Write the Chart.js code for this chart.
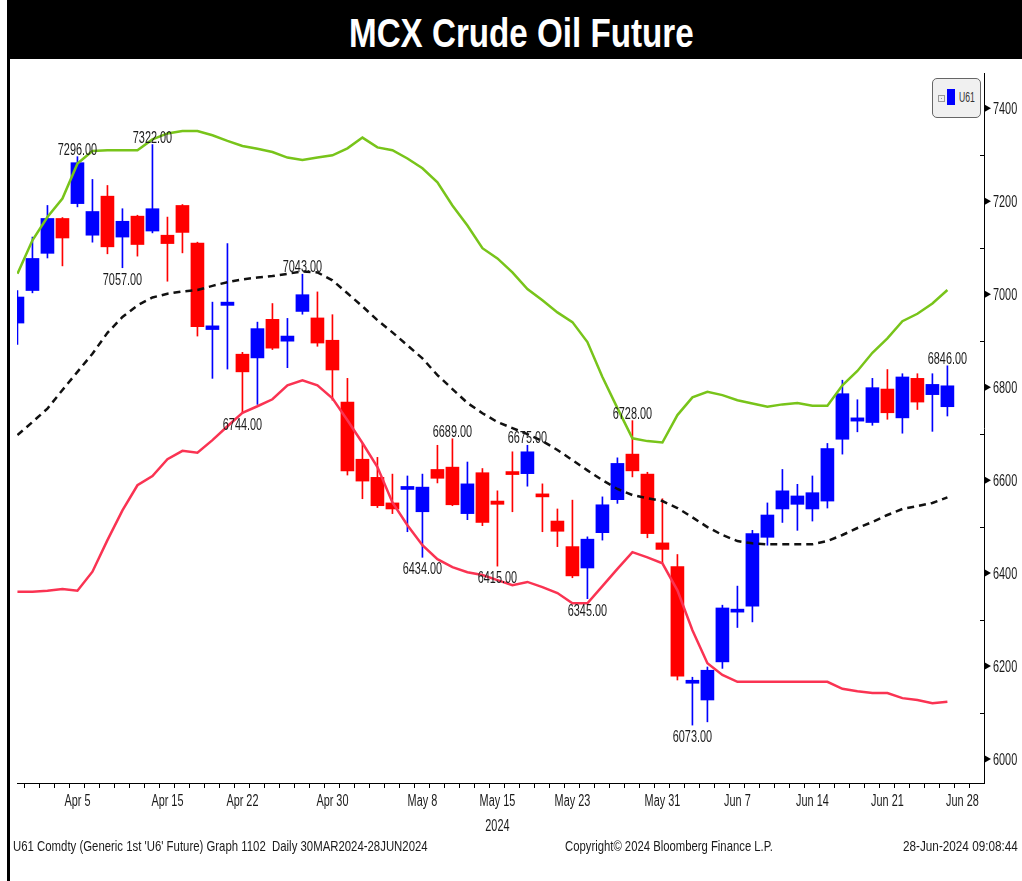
<!DOCTYPE html>
<html>
<head>
<meta charset="utf-8">
<title>MCX Crude Oil Future</title>
<script src="https://cdn.jsdelivr.net/npm/chart.js@4.4.1/dist/chart.umd.min.js"></script>
<style>
  html, body { margin: 0; padding: 0; background: #fff; }
  #page { position: relative; width: 1022px; height: 881px; overflow: hidden; background: #fff;
          font-family: 'Liberation Sans', Arial, sans-serif; color: #222; }
  #frame { position: absolute; left: 7px; top: 0; width: 3px; height: 881px; background: #000; }
  #title { position: absolute; left: 7px; top: 0; width: 1015px; height: 59px; background: #000; overflow: hidden; }
  #title span { top: 0; color: #fff; font-weight: bold; font-size: 40px; line-height: 66px; }
  #chart { position: absolute; left: 0; top: 59px; }
  #legend { position: absolute; left: 932px; top: 78px; width: 49px; height: 40px; box-sizing: border-box;
            border: 1.5px solid #666; border-radius: 5px; background: #f0f0f0; }
  #legend .ico { position: absolute; left: 5px; top: 16px; width: 5px; height: 5px; border: 1px solid #999; }
  #legend .ico:after { content: ''; position: absolute; left: 2px; top: 2px; width: 1px; height: 1px; background: #999; }
  #legend .sw { position: absolute; left: 14px; top: 10px; width: 8px; height: 16px; background: #0000ff; }
  .fit { position: absolute; white-space: nowrap; transform-origin: 0 0; }
  .note { top: 837px; font-size: 15px; line-height: 17px; color: #1a1a1a; }
</style>
</head>
<body>
<div id="page">
  <div id="title"><span class="fit" data-x="514" data-w="345" data-a="c">MCX Crude Oil Future</span></div>
  <div id="frame"></div>
  <canvas id="chart" width="1022" height="822"></canvas>
  <div id="legend"><div class="ico"></div><div class="sw"></div></div>
  <span class="fit" data-x="959" data-w="16" data-a="l" style="top:90px; font-size:14px; line-height:15px; color:#333;">U61</span>
  <span class="fit note" data-x="13" data-w="415" data-a="l">U61 Comdty (Generic 1st 'U6' Future) Graph 1102&nbsp; Daily 30MAR2024-28JUN2024</span>
  <span class="fit note" data-x="669" data-w="208" data-a="c">Copyright© 2024 Bloomberg Finance L.P.</span>
  <span class="fit note" data-x="1018" data-w="115" data-a="r">28-Jun-2024 09:08:44</span>
</div>
<script>
// daily candles, 1 Apr 2024 .. 27 Jun 2024 (trading-day index 0..62)
var opens = [6938, 7008, 7088, 7163, 7195, 7127, 7211, 7123, 7168, 7136,
             7127, 7191, 7110, 6924, 6976, 6871, 6863, 6946, 6899, 6963,
             6949, 6901, 6768, 6645, 6606, 6551, 6580, 6532, 6623, 6628,
             6528, 6616, 6555, 6617, 6614, 6570, 6512, 6457, 6411, 6487,
             6558, 6656, 6613, 6465, 6414, 6163, 6127, 6209, 6316, 6329,
             6477, 6538, 6548, 6538, 6555, 6688, 6727, 6724, 6796, 6734,
             6819, 6784, 6758];
var highs = [7008, 7123, 7191, 7165, 7296, 7247, 7234, 7184, 7170, 7322,
             7166, 7193, 7112, 6983, 7109, 6875, 6940, 6980, 6948, 7043,
             7005, 6956, 6819, 6679, 6649, 6613, 6609, 6613, 6675, 6689,
             6639, 6625, 6577, 6661, 6675, 6592, 6538, 6557, 6478, 6564,
             6648, 6728, 6617, 6560, 6440, 6176, 6198, 6331, 6372, 6492,
             6551, 6623, 6591, 6609, 6679, 6815, 6773, 6819, 6838, 6829,
             6829, 6829, 6846];
var lows = [6892, 7003, 7078, 7061, 7188, 7112, 7087, 7057, 7082, 7132,
            7028, 7089, 6910, 6819, 6839, 6744, 6763, 6881, 6842, 6957,
            6888, 6772, 6611, 6560, 6541, 6528, 6489, 6434, 6594, 6545,
            6515, 6502, 6415, 6532, 6587, 6489, 6457, 6390, 6345, 6471,
            6550, 6607, 6476, 6421, 6170, 6073, 6080, 6195, 6283, 6295,
            6460, 6509, 6492, 6512, 6540, 6656, 6704, 6718, 6731, 6701,
            6752, 6705, 6738];
var closes = [6994, 7077, 7163, 7121, 7283, 7178, 7102, 7157, 7107, 7184,
              7109, 7133, 6930, 6932, 6983, 6833, 6926, 6884, 6910, 6999,
              6895, 6837, 6620, 6598, 6545, 6538, 6585, 6585, 6604, 6547,
              6592, 6509, 6548, 6612, 6661, 6564, 6490, 6394, 6473, 6547,
              6636, 6620, 6485, 6451, 6178, 6168, 6191, 6325, 6321, 6485,
              6525, 6577, 6566, 6573, 6668, 6786, 6734, 6799, 6745, 6822,
              6768, 6806, 6803];

// bollinger bands
var upperBand = [7044, 7116, 7166, 7206, 7281, 7308, 7310, 7310, 7310, 7333,
                 7346, 7351, 7351, 7342, 7330, 7319, 7313, 7306, 7294, 7289,
                 7294, 7299, 7314, 7337, 7316, 7310, 7292, 7271, 7241, 7191,
                 7148, 7099, 7077, 7047, 7011, 6987, 6961, 6940, 6897, 6822,
                 6755, 6690, 6684, 6681, 6740, 6778, 6790, 6783, 6772, 6765,
                 6758, 6763, 6766, 6760, 6760, 6804, 6835, 6874, 6905, 6942,
                 6958, 6980, 7009];
var midBand = [6697, 6725, 6754, 6794, 6833, 6872, 6917, 6951, 6976, 6993,
               7001, 7006, 7009, 7018, 7026, 7032, 7036, 7039, 7044, 7049,
               7047, 7030, 7002, 6974, 6944, 6918, 6890, 6862, 6826, 6796,
               6766, 6744, 6725, 6712, 6699, 6684, 6665, 6643, 6621, 6600,
               6581, 6568, 6561, 6555, 6540, 6520, 6499, 6482, 6469, 6464,
               6462, 6462, 6462, 6462, 6469, 6482, 6497, 6510, 6525, 6538,
               6544, 6551, 6563];
var lowerBand = [6360, 6360, 6362, 6366, 6362, 6403, 6471, 6535, 6589, 6609,
                 6645, 6663, 6659, 6686, 6716, 6745, 6759, 6774, 6804, 6815,
                 6804, 6776, 6729, 6680, 6628, 6552, 6503, 6460, 6430, 6413,
                 6402, 6396, 6385, 6374, 6381, 6370, 6357, 6335, 6335, 6372,
                 6409, 6445, 6434, 6421, 6363, 6277, 6206, 6181, 6166, 6166,
                 6166, 6166, 6166, 6166, 6166, 6151, 6146, 6142, 6142, 6131,
                 6127, 6120, 6123];

// x axis labels by trading-day index
var dateLabels = { 4: 'Apr 5', 10: 'Apr 15', 15: 'Apr 22', 21: 'Apr 30', 27: 'May 8', 32: 'May 15',
                   37: 'May 23', 43: 'May 31', 48: 'Jun 7', 53: 'Jun 14', 58: 'Jun 21', 63: 'Jun 28' };
var yearIdx = 32, yearLabel = '2024';

// high / low notes
var noteIdx = [4, 9, 7, 19, 15, 29, 34, 41, 27, 32, 38, 45, 62];
var noteVal = [7296, 7322, 7057, 7043, 6744, 6689, 6675, 6728, 6434, 6415, 6345, 6073, 6846];
var noteUp  = [true, true, false, true, false, true, true, true, false, false, false, false, true];

var FONT = "'Liberation Sans', Arial, sans-serif";
var SQUEEZE = 0.68;   // bloomberg's condensed face
var BLUE = '#0000ff', RED = '#ff0000';

Chart.defaults.font.family = FONT;

// squeeze html texts to their widths in the original
document.querySelectorAll('.fit').forEach(function (el) {
    var w = el.offsetWidth, target = parseFloat(el.dataset.w), x = parseFloat(el.dataset.x);
    var left = el.dataset.a === 'c' ? x - target / 2 : el.dataset.a === 'r' ? x - target : x;
    el.style.left = left + 'px';
    el.style.transform = 'scaleX(' + (target / w) + ')';
});

function pts(arr) {
    return arr.map(function (v, i) { return { x: i, y: v }; });
}

function candleColor(ctx) {
    var i = ctx.dataIndex;
    return closes[i] >= opens[i] ? BLUE : RED;
}

function narrowText(ctx, text, x, y, align) {
    ctx.save();
    ctx.font = '16px ' + FONT;
    ctx.fillStyle = '#1a1a1a';
    ctx.textAlign = 'left';
    ctx.textBaseline = 'alphabetic';
    var w = ctx.measureText(text).width * SQUEEZE;
    var left = align === 'center' ? x - w / 2 : align === 'right' ? x - w : x;
    ctx.translate(left, y);
    ctx.scale(SQUEEZE, 1);
    ctx.fillText(text, 0, 0);
    ctx.restore();
}

// price notes above highs / below lows
var priceNotes = {
    id: 'priceNotes',
    afterDatasetsDraw: function (chart) {
        var xs = chart.scales.x, ys = chart.scales.y;
        noteIdx.forEach(function (idx, k) {
            var px = xs.getPixelForValue(idx);
            var py = ys.getPixelForValue(noteVal[k]);
            narrowText(chart.ctx, noteVal[k].toFixed(2), px, noteUp[k] ? py - 2 : py + 17, 'center');
        });
    }
};

// axis labels in the condensed face, arrows at labelled ticks, small inner ticks between
var axisMarks = {
    id: 'axisMarks',
    afterDraw: function (chart) {
        var ctx = chart.ctx, xs = chart.scales.x, ys = chart.scales.y, ax = ys.left;
        ctx.save();
        ctx.fillStyle = '#000';
        ctx.strokeStyle = '#000';
        ctx.lineWidth = 1;
        ys.ticks.forEach(function (t) {
            var py = ys.getPixelForValue(t.value);
            ctx.beginPath();
            ctx.moveTo(ax, py - 4);
            ctx.lineTo(ax + 7, py);
            ctx.lineTo(ax, py + 4);
            ctx.closePath();
            ctx.fill();
            if (t.value + 100 < ys.max) {
                var pm = Math.round(ys.getPixelForValue(t.value + 100)) + 0.5;
                ctx.beginPath();
                ctx.moveTo(ax - 4, pm);
                ctx.lineTo(ax, pm);
                ctx.stroke();
            }
            narrowText(ctx, String(t.value), ax + 9, py + 6, 'left');
        });
        Object.keys(dateLabels).forEach(function (k) {
            narrowText(ctx, dateLabels[k], xs.getPixelForValue(+k), xs.top + 23, 'center');
        });
        narrowText(ctx, yearLabel, xs.getPixelForValue(yearIdx), xs.top + 48, 'center');
        ctx.restore();
    }
};

var ctx = document.getElementById('chart').getContext('2d');
var myChart = new Chart(ctx, {
    type: 'bar',
    data: {
        datasets: [{
            type: 'line', label: 'Upper', data: pts(upperBand), order: 0,
            borderColor: '#78c41a', borderWidth: 2.5, pointRadius: 0, tension: 0, clip: 0
        }, {
            type: 'line', label: 'Mid', data: pts(midBand), order: 0,
            borderColor: '#111', borderWidth: 2.5, borderDash: [7, 5], pointRadius: 0, tension: 0, clip: 0
        }, {
            type: 'line', label: 'Lower', data: pts(lowerBand), order: 0,
            borderColor: '#fa3352', borderWidth: 2.5, pointRadius: 0, tension: 0, clip: 0
        }, {
            label: 'Body', order: 1, grouped: false, barThickness: 13, minBarLength: 3, clip: 0,
            data: opens.map(function (o, i) { return { x: i, y: [o, closes[i]] }; }),
            backgroundColor: candleColor, borderWidth: 0
        }, {
            label: 'Wick', order: 2, grouped: false, barThickness: 1, clip: 0,
            data: lows.map(function (l, i) { return { x: i, y: [l, highs[i]] }; }),
            backgroundColor: candleColor, borderWidth: 0
        }]
    },
    options: {
        responsive: false,
        animation: false,
        devicePixelRatio: 1,
        events: [],
        layout: { padding: { left: 17, top: 14, right: 2, bottom: 0 } },
        plugins: {
            legend: { display: false },
            tooltip: { enabled: false }
        },
        scales: {
            x: {
                type: 'linear',
                min: -0.03,
                max: 64.44,
                offset: false,
                ticks: { display: false, stepSize: 1, autoSkip: false, includeBounds: false },
                grid: { drawOnChartArea: false, drawTicks: true, tickLength: 5, tickColor: '#000', tickWidth: 1 },
                border: { display: true, color: '#000', width: 1 },
                afterFit: function (scale) { scale.height = 98; }
            },
            y: {
                position: 'right',
                min: 5948.4,
                max: 7476,
                ticks: { display: false, stepSize: 200, includeBounds: false },
                grid: { drawOnChartArea: false, drawTicks: false },
                border: { display: true, color: '#000', width: 1 },
                afterFit: function (scale) { scale.width = 36; }
            }
        }
    },
    plugins: [priceNotes, axisMarks]
});
</script>
</body>
</html>
